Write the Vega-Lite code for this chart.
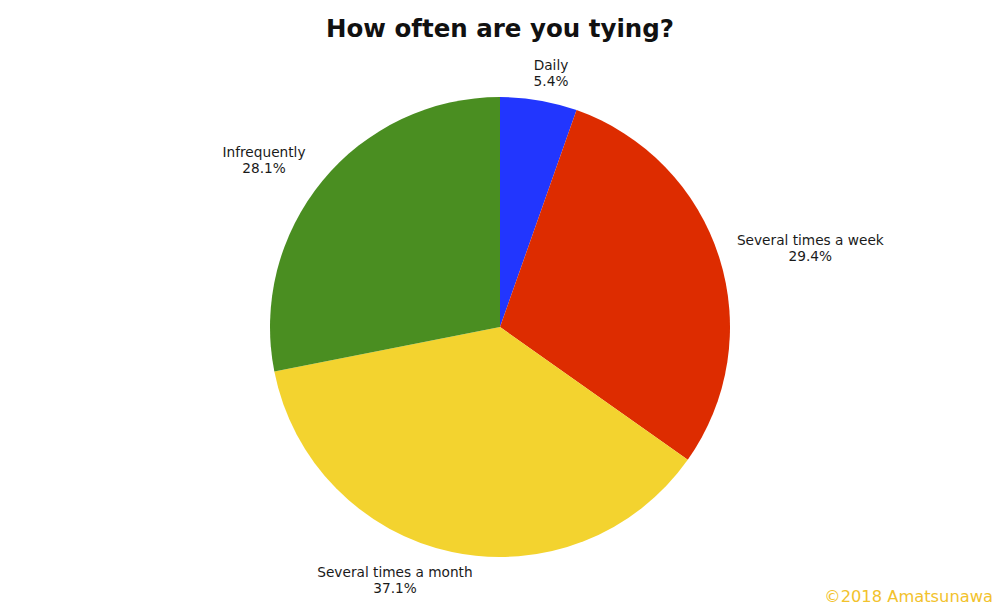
{
  "$schema": "https://vega.github.io/schema/vega-lite/v6.json",
  "width": 1000,
  "height": 564,
  "autosize": "none",
  "padding": {"left": 0, "top": 45, "right": 0, "bottom": 0},
  "background": "white",
  "title": {
    "text": "How often are you tying?",
    "font": "DejaVu Sans",
    "fontSize": 24.5,
    "fontWeight": "bold",
    "color": "#111111",
    "anchor": "middle",
    "frame": "group",
    "offset": 3
  },
  "config": {"view": {"stroke": null}},
  "layer": [
    {
      "data": {
        "values": [
          {"category": "Daily", "percent": 5.4, "rank": 1, "label": "Daily\n5.4%"},
          {"category": "Several times a week", "percent": 29.4, "rank": 2, "label": "Several times a week\n29.4%"},
          {"category": "Several times a month", "percent": 37.1, "rank": 3, "label": "Several times a month\n37.1%"},
          {"category": "Infrequently", "percent": 28.1, "rank": 4, "label": "Infrequently\n28.1%"}
        ]
      },
      "transform": [
        {"stack": "percent", "groupby": [], "sort": [{"field": "rank", "order": "ascending"}], "as": ["p0", "p1"]}
      ],
      "encoding": {
        "theta": {"field": "p0", "type": "quantitative", "scale": {"domain": [0, 100]}}
      },
      "layer": [
        {
          "mark": {"type": "arc", "outerRadius": 230},
          "encoding": {
            "theta2": {"field": "p1"},
            "color": {
              "field": "category",
              "type": "nominal",
              "scale": {
                "domain": ["Daily", "Several times a week", "Several times a month", "Infrequently"],
                "range": ["#2236FE", "#DD2C00", "#F3D32F", "#4A8E21"]
              },
              "legend": null
            }
          }
        },
        {
          "transform": [{"filter": "datum.category === 'Daily'"}],
          "mark": {"type": "text", "radius": 258, "thetaOffset": 0.199, "dy": -8, "font": "DejaVu Sans", "fontSize": 13.7, "lineBreak": "\n", "lineHeight": 16, "align": "center", "baseline": "middle", "color": "#1a1a1a"},
          "encoding": {"text": {"field": "label"}}
        },
        {
          "transform": [{"filter": "datum.category === 'Several times a week'"}],
          "mark": {"type": "text", "radius": 320, "thetaOffset": 0.9851, "dy": -8, "font": "DejaVu Sans", "fontSize": 13.7, "lineBreak": "\n", "lineHeight": 16, "align": "center", "baseline": "middle", "color": "#1a1a1a"},
          "encoding": {"text": {"field": "label"}}
        },
        {
          "transform": [{"filter": "datum.category === 'Several times a month'"}],
          "mark": {"type": "text", "radius": 275, "thetaOffset": 1.347, "dy": -8, "font": "DejaVu Sans", "fontSize": 13.7, "lineBreak": "\n", "lineHeight": 16, "align": "center", "baseline": "middle", "color": "#1a1a1a"},
          "encoding": {"text": {"field": "label"}}
        },
        {
          "transform": [{"filter": "datum.category === 'Infrequently'"}],
          "mark": {"type": "text", "radius": 288.5, "thetaOffset": 0.8077, "dy": -8, "font": "DejaVu Sans", "fontSize": 13.7, "lineBreak": "\n", "lineHeight": 16, "align": "center", "baseline": "middle", "color": "#1a1a1a"},
          "encoding": {"text": {"field": "label"}}
        }
      ]
    },
    {
      "data": {"values": [{"note": "©2018 Amatsunawa"}]},
      "mark": {
        "type": "text",
        "font": "DejaVu Sans",
        "fontSize": 16.3,
        "align": "right",
        "baseline": "bottom",
        "dx": -7,
        "dy": -4,
        "color": "#F2C22C"
      },
      "encoding": {
        "text": {"field": "note"},
        "x": {"value": "width"},
        "y": {"value": "height"}
      }
    }
  ]
}
